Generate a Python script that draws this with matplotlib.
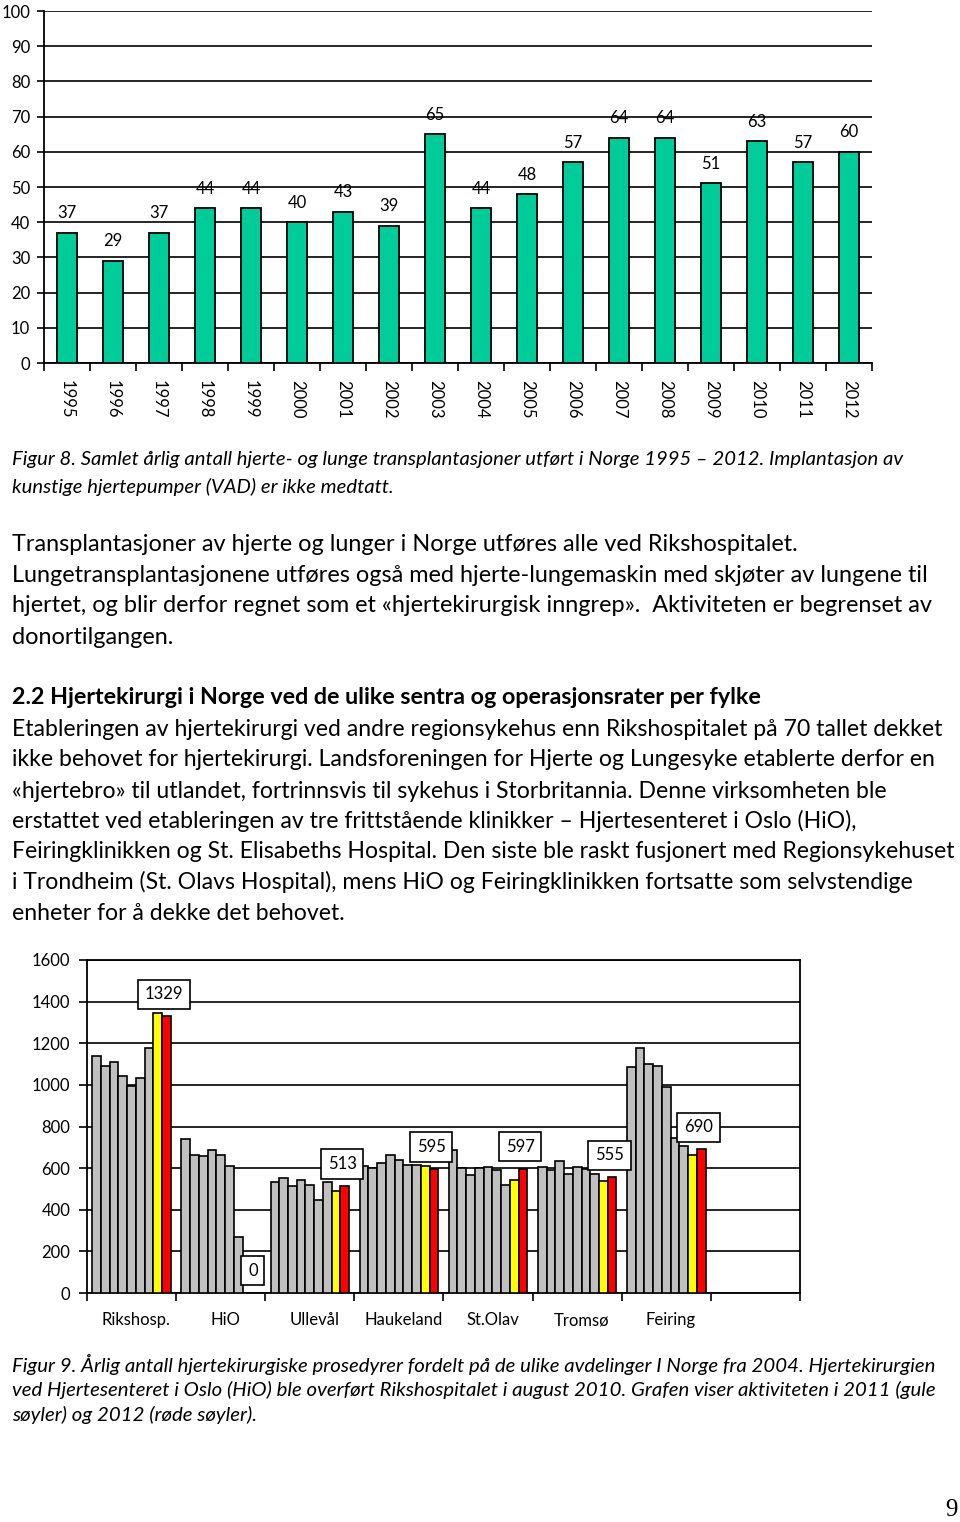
import matplotlib
matplotlib.use("Agg")
import matplotlib.pyplot as plt
import numpy as np

plt.rcParams['font.family'] = ['Lato', 'DejaVu Sans']

# --- Figur 8: transplantasjoner per år ---
years = ["1995", "1996", "1997", "1998", "1999", "2000", "2001", "2002", "2003",
         "2004", "2005", "2006", "2007", "2008", "2009", "2010", "2011", "2012"]
transplants = [37, 29, 37, 44, 44, 40, 43, 39, 65, 44, 48, 57, 64, 64, 51, 63, 57, 60]

# --- Figur 9: hjertekirurgiske prosedyrer per avdeling, 2004-2012 ---
centres = ["Rikshosp.", "HiO", "Ullevål", "Haukeland", "St.Olav", "Tromsø", "Feiring"]
series_years = ["2004", "2005", "2006", "2007", "2008", "2009", "2010", "2011", "2012"]
rikshosp = [1140, 1092, 1112, 1041, 993, 1033, 1177, 1345, 1329]
hio = [740, 663, 660, 687, 663, 612, 268, 0, 0]
ulleval = [532, 551, 516, 543, 519, 447, 532, 489, 513]
haukeland = [609, 601, 626, 663, 639, 617, 615, 612, 595]
stolav = [687, 601, 569, 601, 604, 593, 519, 543, 597]
tromso = [604, 593, 633, 572, 604, 596, 572, 540, 555]
feiring = [1085, 1176, 1101, 1093, 992, 745, 705, 663, 690]
per_centre = [rikshosp, hio, ulleval, haukeland, stolav, tromso, feiring]

W, H = 960, 1522
fig = plt.figure(figsize=(W / 100, H / 100), dpi=100)


def px_axes(left, top, right, bottom):
    return fig.add_axes([left / W, 1 - bottom / H, (right - left) / W, (bottom - top) / H])


# ---------------- chart 1 ----------------
ax1 = px_axes(44, 11, 872, 363)
x = np.arange(len(years)) + 0.5
ax1.bar(x, transplants, width=0.43, color="#00CC99", edgecolor="black", linewidth=1.3, zorder=3)
for xi, v in zip(x, transplants):
    ax1.annotate(str(v), (xi, v), xytext=(0, 14), textcoords="offset points",
                 ha="center", va="center", fontsize=12)
ax1.set_xlim(0, len(years))
ax1.set_ylim(0, 100)
ax1.set_yticks(range(0, 101, 10))
ax1.yaxis.grid(True, color="black", linewidth=1.2, zorder=0)
ax1.set_xticks(x)
ax1.set_xticklabels(years, rotation=-90, fontsize=12)
ax1.set_xticks(np.arange(len(years) + 1), minor=True)
ax1.tick_params(axis="x", which="major", length=0, pad=12)
ax1.tick_params(axis="x", which="minor", length=6, width=1.2)
ax1.tick_params(axis="y", length=5, width=1.2, pad=5, labelsize=12)
for s in ["top", "right"]:
    ax1.spines[s].set_visible(False)
for s in ["left", "bottom"]:
    ax1.spines[s].set_linewidth(1.3)

# ---------------- chart 2 ----------------
ax2 = px_axes(87, 960, 800, 1293)
nser = len(series_years)
bw = 0.098
start = (1 - nser * bw) / 2
colors = ["#C0C0C0"] * 7 + ["#FFFF00", "#FF0000"]
for j in range(nser):
    vals = [c[j] for c in per_centre]
    xs = np.arange(len(centres)) + start + (j + 0.5) * bw
    ax2.bar(xs, vals, width=bw, color=colors[j], edgecolor="black", linewidth=1.2, zorder=3)
red_x = np.arange(len(centres)) + start + (nser - 0.5) * bw - 0.03
for xi, c in zip(red_x, per_centre):
    ax2.annotate(str(c[-1]), (xi, c[-1]), xytext=(0, 16), textcoords="offset points",
                 ha="center", va="center", fontsize=12, zorder=5,
                 bbox=dict(boxstyle="square,pad=0.4", facecolor="white",
                           edgecolor="black", linewidth=1.2))
ax2.set_xlim(0, 8)
ax2.set_ylim(0, 1600)
ax2.set_yticks(range(0, 1601, 200))
ax2.yaxis.grid(True, color="black", linewidth=1.2, zorder=0)
ax2.set_xticks(np.arange(len(centres)) + 0.55)
ax2.set_xticklabels(centres, fontsize=12)
ax2.set_xticks(np.arange(9), minor=True)
ax2.tick_params(axis="x", which="major", length=0, pad=14)
ax2.tick_params(axis="x", which="minor", length=6, width=1.2)
ax2.tick_params(axis="y", length=6, width=1.2, pad=6, labelsize=12)
for s in ax2.spines.values():
    s.set_linewidth(1.3)

# ---------------- text ----------------
renderer = fig.canvas.get_renderer()


def block(lines, ys, target_w, **kw):
    objs = [fig.text(12 / W, 1 - y / H, s, ha="left", va="center", fontsize=14, **kw)
            for s, y in zip(lines, ys)]
    widest = max(objs, key=lambda t: t.get_window_extent(renderer).width)
    size = 14 * target_w / widest.get_window_extent(renderer).width
    for t in objs:
        t.set_fontsize(size)
    return objs


block(["Figur 8. Samlet årlig antall hjerte- og lunge transplantasjoner utført i Norge 1995 – 2012. Implantasjon av",
       "kunstige hjertepumper (VAD) er ikke medtatt."],
      [460, 487], 894, style="italic")

block(["Transplantasjoner av hjerte og lunger i Norge utføres alle ved Rikshospitalet.",
       "Lungetransplantasjonene utføres også med hjerte-lungemaskin med skjøter av lungene til",
       "hjertet, og blir derfor regnet som et «hjertekirurgisk inngrep».  Aktiviteten er begrenset av",
       "donortilgangen."],
      [545, 576, 606, 637], 921)

block(["2.2 Hjertekirurgi i Norge ved de ulike sentra og operasjonsrater per fylke"],
      [698], 754, fontweight="bold")

block(["Etableringen av hjertekirurgi ved andre regionsykehus enn Rikshospitalet på 70 tallet dekket",
       "ikke behovet for hjertekirurgi. Landsforeningen for Hjerte og Lungesyke etablerte derfor en",
       "«hjertebro» til utlandet, fortrinnsvis til sykehus i Storbritannia. Denne virksomheten ble",
       "erstattet ved etableringen av tre frittstående klinikker – Hjertesenteret i Oslo (HiO),",
       "Feiringklinikken og St. Elisabeths Hospital. Den siste ble raskt fusjonert med Regionsykehuset",
       "i Trondheim (St. Olavs Hospital), mens HiO og Feiringklinikken fortsatte som selvstendige",
       "enheter for å dekke det behovet."],
      [729, 760, 791, 821, 852, 882, 913], 945)

block(["Figur 9. Årlig antall hjertekirurgiske prosedyrer fordelt på de ulike avdelinger I Norge fra 2004. Hjertekirurgien",
       "ved Hjertesenteret i Oslo (HiO) ble overført Rikshospitalet i august 2010. Grafen viser aktiviteten i 2011 (gule",
       "søyler) og 2012 (røde søyler)."],
      [1364, 1390, 1415], 926, style="italic")

fig.text(958 / W, 1 - 1510 / H, "9", ha="right", va="center", fontsize=18,
         family=["Liberation Serif"])

fig.savefig("out.png", dpi=100)
